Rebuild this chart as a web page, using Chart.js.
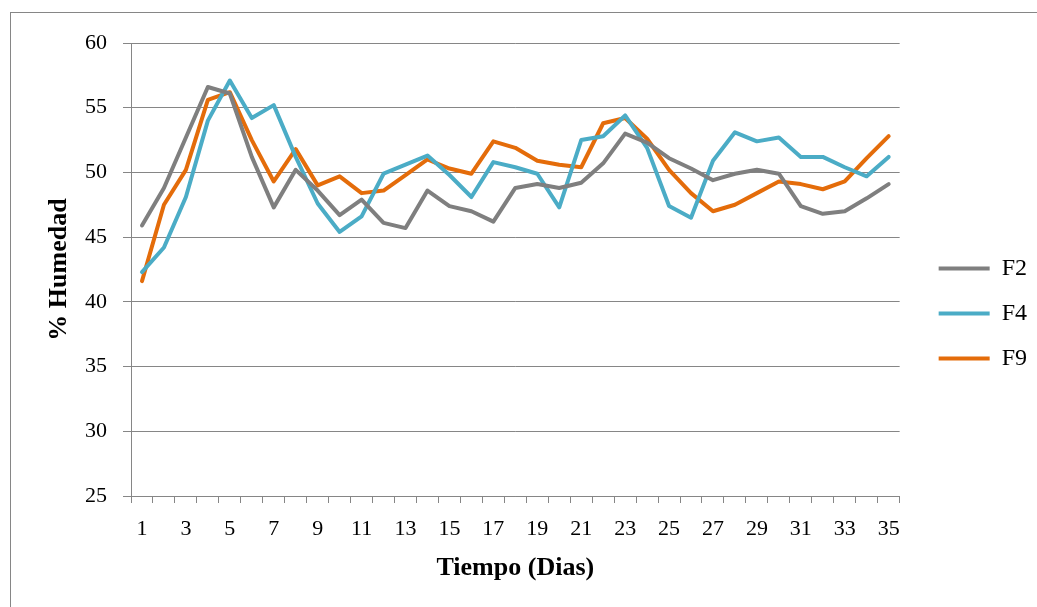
<!DOCTYPE html>
<html>
<head>
<meta charset="utf-8">
<script src="https://cdn.jsdelivr.net/npm/chart.js@4/dist/chart.umd.min.js"></script>
<style>
  body { margin: 0; background: #fff; }
  #marco { position: absolute; left: 10px; top: 12px; width: 1040px; height: 610px; border: 1px solid #868686; }
  canvas { position: absolute; left: 0; top: 0; }
</style>
</head>
<body>
<div id="marco"></div>
<canvas id="grafico" width="1037" height="607"></canvas>
<script>
// dias 1..35
const dias = []
for (let d = 1; d <= 35; d++) dias.push(String(d))

const F2 = [45.9, 48.8, 52.7, 56.6, 56.1, 51.2, 47.3, 50.2, 48.6, 46.7,
            47.9, 46.1, 45.7, 48.6, 47.4, 47.0, 46.2, 48.8, 49.1, 48.8,
            49.2, 50.7, 53.0, 52.3, 51.1, 50.3, 49.4, 49.9, 50.2, 49.9,
            47.4, 46.8, 47.0, 48.0, 49.1]
const F4 = [42.3, 44.2, 48.1, 54.0, 57.1, 54.2, 55.2, 51.2, 47.6, 45.4,
            46.6, 49.9, 50.6, 51.3, 49.8, 48.1, 50.8, 50.4, 49.9, 47.3,
            52.5, 52.8, 54.4, 51.9, 47.4, 46.5, 50.9, 53.1, 52.4, 52.7,
            51.2, 51.2, 50.4, 49.7, 51.2]
const F9 = [41.6, 47.5, 50.2, 55.6, 56.2, 52.5, 49.3, 51.8, 49.0, 49.7,
            48.4, 48.6, 49.8, 51.0, 50.3, 49.9, 52.4, 51.9, 50.9, 50.6,
            50.4, 53.8, 54.2, 52.6, 50.2, 48.4, 47.0, 47.5, 48.4, 49.3,
            49.1, 48.7, 49.3, 51.1, 52.8]

const yMin = 25, yMax = 60, yPaso = 5

const gris = '#868686'
const fuente = "'Liberation Serif', 'Times New Roman', serif"

function serie(nombre, datos, color) {
  return {
    label: nombre,
    data: datos,
    borderColor: color,
    backgroundColor: color,
    borderWidth: 4,
    pointRadius: 0,
    tension: 0,
    borderJoinStyle: 'round',
    borderCapStyle: 'round'
  }
}

const ctx = document.getElementById('grafico')

new Chart(ctx, {
  type: 'line',
  data: {
    labels: dias,
    datasets: [
      serie('F2', F2, '#7F7F7F'),
      serie('F4', F4, '#4BACC6'),
      serie('F9', F9, '#E46C0A')
    ]
  },
  options: {
    responsive: false,
    animation: false,
    devicePixelRatio: 1,
    layout: { padding: { top: 43, left: 44, right: 0, bottom: 23 } },
    plugins: {
      tooltip: { enabled: false },
      legend: {
        position: 'right',
        labels: {
          usePointStyle: true,
          pointStyle: 'line',
          pointStyleWidth: 51,
          padding: 21,
          color: '#000',
          font: { family: fuente, size: 24 }
        }
      }
    },
    scales: {
      x: {
        offset: true,
        grid: { offset: true, drawOnChartArea: false, color: gris, tickLength: 7 },
        border: { color: gris, width: 1 },
        ticks: {
          autoSkip: false,
          maxRotation: 0,
          padding: 13,
          color: '#000',
          font: { family: fuente, size: 22 },
          callback: function (v, i) { return i % 2 === 0 ? this.getLabelForValue(v) : '' }
        },
        title: {
          display: true,
          text: 'Tiempo (Dias)',
          color: '#000',
          padding: 0,
          font: { family: fuente, size: 26, weight: 'bold' }
        },
        afterFit: (s) => { s.height = 88 }
      },
      y: {
        min: yMin,
        max: yMax,
        grid: { color: gris, tickLength: 8 },
        border: { color: gris, width: 1 },
        ticks: {
          stepSize: yPaso,
          padding: 16,
          color: '#000',
          font: { family: fuente, size: 22 }
        },
        title: {
          display: true,
          text: '% Humedad',
          color: '#000',
          padding: 0,
          font: { family: fuente, size: 26, weight: 'bold' }
        },
        afterFit: (s) => { s.width = 87 }
      },
      // eje vacio a la derecha para separar la leyenda
      y2: {
        position: 'right',
        display: true,
        grid: { display: false },
        border: { display: false },
        ticks: { display: false },
        afterFit: (s) => { s.width = 18 }
      }
    }
  }
})
</script>
</body>
</html>
